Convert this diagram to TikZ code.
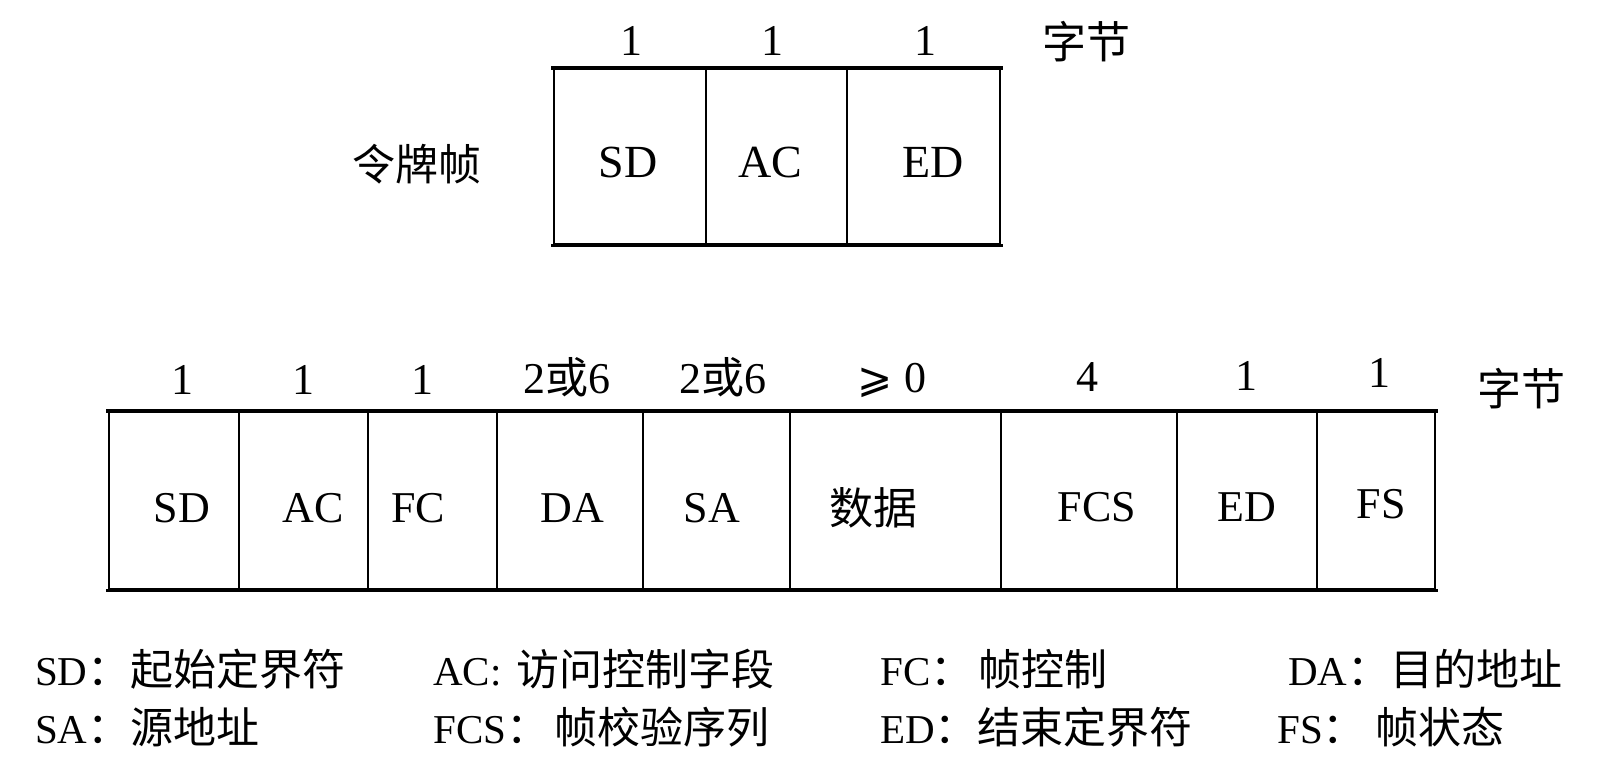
\documentclass[tikz,border=0pt]{standalone}
\usepackage{fontspec}
\setmainfont{Liberation Serif}
\newfontfamily\cjk{Noto Sans CJK SC}
\newfontfamily\dvsym{DejaVu Sans}
\newcommand\zhtxt[1]{{\cjk\fontsize{43}{48}\selectfont #1}}
\begin{document}
\begin{tikzpicture}[x=1pt,y=-1pt,
  cell/.style={draw=black, line width=2.3pt, inner sep=0pt, anchor=north west},
  rim/.style={draw=black, line width=3.4pt, line cap=rect},
  big/.style={font=\fontsize{46}{50}\selectfont, inner sep=0pt, anchor=base},
  lat/.style={font=\fontsize{44}{48}\selectfont, inner sep=0pt, anchor=base},
  zh/.style={font=\cjk\fontsize{44}{48}\selectfont, inner sep=0pt, anchor=center},
  leg/.style={font=\fontsize{41}{46}\selectfont, inner sep=0pt, anchor=base west}]
\useasboundingbox[fill=white] (0,0) rectangle (1605,780);

% ---------- token frame ----------
\node[zh, font=\cjk\fontsize{43}{48}\selectfont] (tname) at (417,164) {令牌帧};
\node[cell, minimum width=152pt, minimum height=175pt] (t1) at (553,68) {};
\node[cell, minimum width=141pt, minimum height=175pt] (t2) at (705,68) {};
\node[cell, minimum width=153pt, minimum height=175pt] (t3) at (846,68) {};
\draw[rim] (t1.north west) -- (t3.north east);
\draw[rim] (t1.south west) -- (t3.south east);
\node[big] (t1l) at (628,177) {SD};
\node[big] (t2l) at (770,177) {AC};
\node[big] (t3l) at (933,177) {ED};
\node[lat] (t1n) at (631,55) {1};
\node[lat] (t2n) at (772,55) {1};
\node[lat] (t3n) at (925,55) {1};
\node[zh] (tunit) at (1086,42) {字节};

% ---------- data frame ----------
\node[cell, minimum width=130pt, minimum height=177pt] (d1) at (108,411) {};
\node[cell, minimum width=129pt, minimum height=177pt] (d2) at (238,411) {};
\node[cell, minimum width=129pt, minimum height=177pt] (d3) at (367,411) {};
\node[cell, minimum width=146pt, minimum height=177pt] (d4) at (496,411) {};
\node[cell, minimum width=147pt, minimum height=177pt] (d5) at (642,411) {};
\node[cell, minimum width=211pt, minimum height=177pt] (d6) at (789,411) {};
\node[cell, minimum width=176pt, minimum height=177pt] (d7) at (1000,411) {};
\node[cell, minimum width=140pt, minimum height=177pt] (d8) at (1176,411) {};
\node[cell, minimum width=118pt, minimum height=177pt] (d9) at (1316,411) {};
\draw[rim] (d1.north west) -- (d9.north east);
\draw[rim] (d1.south west) -- (d9.south east);

\node[lat] (d1l) at (182,522) {SD};
\node[lat] (d2l) at (313,522) {AC};
\node[lat] (d3l) at (418,522) {FC};
\node[lat] (d4l) at (572,522) {DA};
\node[lat] (d5l) at (712,522) {SA};
\node[zh]  (d6l) at (873,508) {数据};
\node[lat] (d7l) at (1097,521) {FCS};
\node[lat] (d8l) at (1247,521) {ED};
\node[lat] (d9l) at (1381,518) {FS};

\node[lat] (d1n) at (182,394) {1};
\node[lat] (d2n) at (303,394) {1};
\node[lat] (d3n) at (422,394) {1};
\node[lat] (d4n) at (567,393) {2\zhtxt{或}6};
\node[lat] (d5n) at (723,393) {2\zhtxt{或}6};
\node[lat] (d6n) at (892,392) {{\dvsym\fontsize{42}{46}\selectfont ⩾}\hspace{12pt}0};
\node[lat] (d7n) at (1087,391) {4};
\node[lat] (d8n) at (1246,390) {1};
\node[lat] (d9n) at (1379,387) {1};
\node[zh] (dunit) at (1521,389) {字节};

% ---------- legend ----------
\node[leg] (lsd)  at (35,685)   {SD\zhtxt{：}\zhtxt{起始定界符}};
\node[leg] (lac)  at (433,685)  {AC:\hspace{15pt}\zhtxt{访问控制字段}};
\node[leg] (lfc)  at (880,685)  {FC\zhtxt{：}\hspace{5pt}\zhtxt{帧控制}};
\node[leg] (lda)  at (1288,685) {DA\zhtxt{：}\zhtxt{目的地址}};
\node[leg] (lsa)  at (35,743)   {SA\zhtxt{：}\zhtxt{源地址}};
\node[leg] (lfcs) at (433,743)  {FCS\zhtxt{：}\hspace{5pt}\zhtxt{帧校验序列}};
\node[leg] (led)  at (880,743)  {ED\zhtxt{：}\zhtxt{结束定界符}};
\node[leg] (lfs)  at (1277,743) {FS\zhtxt{：}\hspace{10pt}\zhtxt{帧状态}};
\end{tikzpicture}
\end{document}
